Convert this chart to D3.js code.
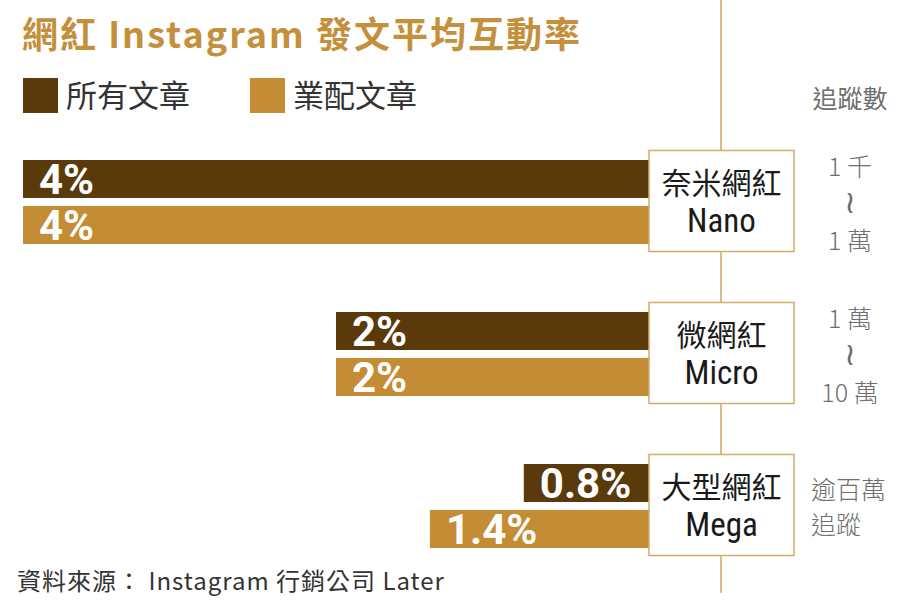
<!DOCTYPE html>
<html><head><meta charset="utf-8">
<script src="https://cdn.jsdelivr.net/npm/d3@7/dist/d3.min.js"></script>
<style>
html,body{margin:0;padding:0;background:#fff;}
svg{display:block;}
</style></head>
<body>
<svg id="chart" width="900" height="608"></svg>
<script>
const title = "網紅 Instagram 發文平均互動率";
const source = "資料來源： Instagram 行銷公司 Later";
const seriesNames = ["所有文章", "業配文章"];
const seriesColors = ["#5a3a0b", "#c38c35"];
const categoriesZh = ["奈米網紅", "微網紅", "大型網紅"];
const categoriesEn = ["Nano", "Micro", "Mega"];
const allPosts = [4, 2, 0.8];
const sponsoredPosts = [4, 2, 1.4];
const valueLabels = [["4%", "4%"], ["2%", "2%"], ["0.8%", "1.4%"]];
const followerHeader = "追蹤數";
const followers = [["1 千", "≀", "1 萬"], ["1 萬", "≀", "10 萬"], ["逾百萬", "追蹤"]];

const svg = d3.select("#chart");
const CJK = "'Noto Sans CJK TC','Noto Sans CJK SC',sans-serif";
const NARROW = "'Liberation Sans Narrow','Roboto Condensed',Roboto,sans-serif";
const NUM = "Roboto,'Liberation Sans',sans-serif";

const boxLeft = 649, boxRight = 794, axisX = 721;

const x = d3.scaleLinear().domain([0, 4]).range([boxLeft, 23]);
const y0 = d3.scaleBand().domain(categoriesEn).range([160, 548]).paddingInner(1 - 84/152).paddingOuter(0);
const y1 = d3.scaleBand().domain([0, 1]).range([0, y0.bandwidth()]).paddingInner(8/46).paddingOuter(0);

// vertical line
svg.append("line").attr("x1", axisX).attr("x2", axisX).attr("y1", 0).attr("y2", 593)
  .attr("stroke", "#dcbb8c").attr("stroke-width", 2);

// title
svg.append("text").attr("x", 22).attr("y", 48).text(title)
  .attr("font-family", CJK).attr("font-weight", 700).attr("font-size", 36)
  .attr("letter-spacing", 2)
  .attr("fill", "#c4903b");

// legend
seriesNames.forEach((n, i) => {
  const lx = [23, 250][i];
  svg.append("rect").attr("x", lx).attr("y", 78).attr("width", 35).attr("height", 35).attr("fill", seriesColors[i]);
  svg.append("text").attr("x", lx + 43).attr("y", 107).text(n)
    .attr("font-family", CJK).attr("font-size", 31).attr("fill", "#333");
});

// header
svg.append("text").attr("x", 850).attr("y", 108).attr("text-anchor", "middle").text(followerHeader)
  .attr("font-family", CJK).attr("font-size", 25).attr("fill", "#6f6f6f");

const data = categoriesEn.map((c, i) => ({
  cat: c, zh: categoriesZh[i], vals: [allPosts[i], sponsoredPosts[i]], labels: valueLabels[i], fol: followers[i]
}));

const g = svg.selectAll("g.grp").data(data).join("g").attr("class", "grp")
  .attr("transform", d => `translate(0,${y0(d.cat)})`);

g.selectAll("rect.bar").data(d => d.vals.map((v, j) => ({v, j, label: d.labels[j]})))
  .join("rect").attr("class", "bar")
  .attr("x", d => x(d.v)).attr("width", d => x(0) - x(d.v))
  .attr("y", d => y1(d.j)).attr("height", y1.bandwidth())
  .attr("fill", d => seriesColors[d.j]);

g.selectAll("text.val").data(d => d.vals.map((v, j) => ({v, j, label: d.labels[j]})))
  .join("text").attr("class", "val")
  .attr("x", d => x(d.v) + 16).attr("y", d => y1(d.j) + y1.bandwidth()/2 + 15)
  .text(d => d.label)
  .attr("font-family", NUM).attr("font-weight", 700).attr("font-size", 42).attr("fill", "#fff");

// boxes
const bh = 101;
g.append("rect").attr("x", boxLeft).attr("y", y0.bandwidth()/2 - bh/2 - 1).attr("width", boxRight - boxLeft).attr("height", bh)
  .attr("fill", "#fff").attr("stroke", "#d5ad6b").attr("stroke-width", 1.5);
g.append("text").attr("x", (boxLeft + boxRight)/2).attr("y", y0.bandwidth()/2 - 8)
  .attr("text-anchor", "middle").text(d => d.zh)
  .attr("font-family", CJK).attr("font-size", 30).attr("fill", "#1a1a1a");
g.append("text").attr("x", (boxLeft + boxRight)/2).attr("y", y0.bandwidth()/2 + 30)
  .attr("text-anchor", "middle").text(d => d.cat)
  .attr("font-family", NARROW).attr("font-size", 33).attr("fill", "#1a1a1a");

// followers
g.each(function(d) {
  const gg = d3.select(this);
  const c = y0.bandwidth()/2;
  if (d.fol.length === 3) {
    const offs = [-36, 2, 38];
    d.fol.forEach((t, k) => {
      gg.append("text").attr("x", 850).attr("y", c + offs[k] + (k === 1 ? 9 : 10)).attr("text-anchor", "middle").text(t)
        .attr("font-family", k === 1 ? "'DejaVu Sans',sans-serif" : CJK)
        .attr("font-size", k === 1 ? 32 : 25).attr("font-weight", 300).attr("fill", "#6f6f6f");
    });
  } else {
    const offs = [-17, 18];
    d.fol.forEach((t, k) => {
      gg.append("text").attr("x", 811).attr("y", c + offs[k] + 10).text(t)
        .attr("font-family", CJK).attr("font-size", 25).attr("font-weight", 300).attr("fill", "#6f6f6f");
    });
  }
});

// source
svg.append("text").attr("x", 17).attr("y", 590).text(source)
  .attr("font-family", CJK).attr("font-size", 24).attr("letter-spacing", 1).attr("fill", "#333");
</script>
</body></html>
